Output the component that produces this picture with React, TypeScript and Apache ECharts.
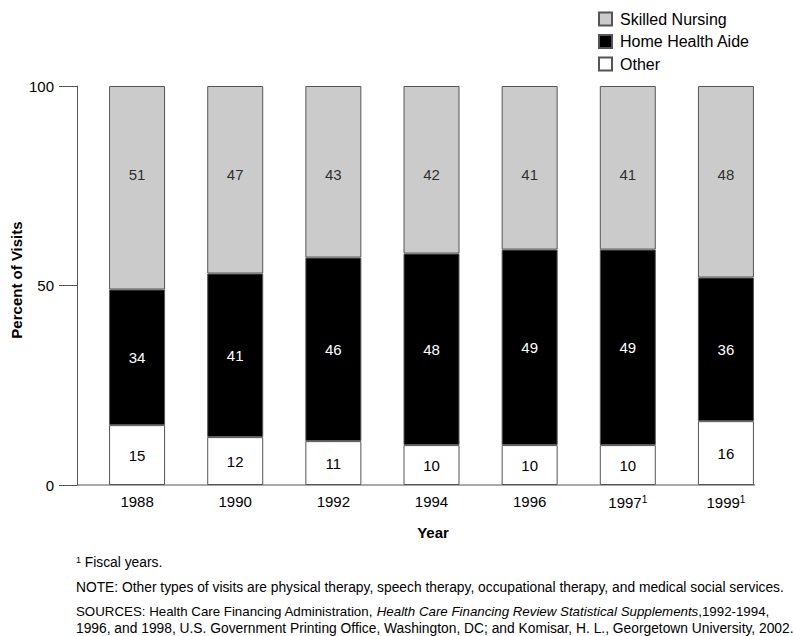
import React, { useEffect, useRef } from "react";
import * as echarts from "echarts";

const years = ["1988", "1990", "1992", "1994", "1996", "1997", "1999"];
const fiscalMark = [false, false, false, false, false, true, true];
const other = [15, 12, 11, 10, 10, 10, 16];
const homeHealthAide = [34, 41, 46, 48, 49, 49, 36];
const skilledNursing = [51, 47, 43, 42, 41, 41, 48];
const yTicks = [0, 50, 100];
const skilledLabelLevel = 77.7; // value level where the Skilled Nursing labels sit

const FONT = "'Liberation Sans', Arial, Helvetica, sans-serif";

export default function App() {
  const ref = useRef<HTMLDivElement>(null);
  useEffect(() => {
    if (!ref.current) return;
    const chart = echarts.init(ref.current, undefined, { renderer: "svg" });
    const labelBase = {
      show: true,
      position: "inside",
      fontSize: 15,
      fontFamily: FONT,
      formatter: "{c}",
    };
    const border = { borderColor: "#555", borderWidth: 1 };
    chart.setOption({
      animation: false,
      backgroundColor: "#fff",
      textStyle: { fontFamily: FONT },
      grid: { left: 88, right: 18, top: 86, bottom: 151, containLabel: false },
      legend: {
        orient: "vertical",
        left: 593,
        top: 6,
        itemWidth: 13,
        itemHeight: 13,
        itemGap: 6.5,
        icon: "rect",
        textStyle: { fontSize: 16, color: "#000", fontFamily: FONT, padding: [0, 0, 0, 3] },
        data: ["Skilled Nursing", "Home Health Aide", "Other"],
      },
      xAxis: {
        type: "category",
        data: years.map((y, i) => (fiscalMark[i] ? y + "{s|1}" : y)),
        axisLine: { show: false },
        axisTick: { show: false },
        axisLabel: {
          fontSize: 15,
          color: "#000",
          margin: 9,
          fontFamily: FONT,
          rich: { s: { fontSize: 10, verticalAlign: "top", color: "#000", padding: [0, 0, 6, 0] } },
        },
        name: "Year",
        nameLocation: "middle",
        nameGap: 40,
        nameTextStyle: { fontSize: 15, fontWeight: "bold", color: "#000", fontFamily: FONT, padding: [0, 0, 0, 3] },
      },
      yAxis: {
        type: "value",
        min: 0,
        max: 100,
        interval: 50,
        offset: 11,
        axisLine: { show: true, lineStyle: { color: "#555", width: 1 } },
        axisTick: { show: true, length: 18, lineStyle: { color: "#555" } },
        splitLine: { show: false },
        axisLabel: {
          fontSize: 15,
          color: "#000",
          margin: 23,
          fontFamily: FONT,
          formatter: (v: number) => (yTicks.includes(v) ? String(v) : ""),
        },
      },
      series: [
        {
          name: "Other",
          type: "bar",
          stack: "t",
          barWidth: 56,
          data: other,
          itemStyle: { color: "#fff", ...border },
          label: { ...labelBase, color: "#000" },
        },
        {
          name: "Home Health Aide",
          type: "bar",
          stack: "t",
          barWidth: 56,
          data: homeHealthAide,
          itemStyle: { color: "#000", ...border },
          label: { ...labelBase, color: "#fff" },
        },
        {
          name: "Skilled Nursing",
          type: "bar",
          stack: "t",
          barWidth: 56,
          data: skilledNursing,
          itemStyle: { color: "#cbcbcb", ...border },
          label: { show: false },
        },
        {
          name: "SN labels",
          type: "scatter",
          symbolSize: 0,
          silent: true,
          z: 5,
          data: skilledNursing.map((_, i) => [i, skilledLabelLevel]),
          label: {
            show: true,
            position: "inside",
            fontSize: 15,
            fontFamily: FONT,
            color: "#000",
            formatter: (p: any) => String(skilledNursing[p.dataIndex]),
          },
        },
      ],
      graphic: [
        {
          type: "line",
          shape: { x1: 77, y1: 485, x2: 755, y2: 485 },
          style: { stroke: "#555", lineWidth: 1 },
          z: 10,
        },
        {
          type: "text",
          x: 16,
          y: 280,
          rotation: Math.PI / 2,
          style: {
            text: "Percent of Visits",
            fontSize: 15,
            fontWeight: "bold",
            fontFamily: FONT,
            fill: "#000",
            align: "center",
            verticalAlign: "middle",
          },
        },
        {
          type: "text",
          x: 76,
          y: 562,
          style: {
            text: "{s|1} Fiscal years.",
            fontSize: 13.8,
            fontFamily: FONT,
            fill: "#000",
            verticalAlign: "middle",
            rich: { s: { fontSize: 9, verticalAlign: "top", padding: [0, 0, 4, 0] } },
          },
        },
        {
          type: "text",
          x: 76,
          y: 587,
          style: {
            text: "NOTE: Other types of visits are physical therapy, speech therapy, occupational therapy, and medical social services.",
            fontSize: 13.8,
            fontFamily: FONT,
            fill: "#000",
            verticalAlign: "middle",
          },
        },
        {
          type: "text",
          x: 76,
          y: 611,
          style: {
            text: "SOURCES: Health Care Financing Administration, {i|Health Care Financing Review Statistical Supplements},1992-1994,",
            fontSize: 13.3,
            fontFamily: FONT,
            fill: "#000",
            verticalAlign: "middle",
            rich: { i: { fontStyle: "italic", fontSize: 13.3, fontFamily: FONT } },
          },
        },
        {
          type: "text",
          x: 76,
          y: 628.5,
          style: {
            text: "1996, and 1998, U.S. Government Printing Office, Washington, DC; and Komisar, H. L., Georgetown University, 2002.",
            fontSize: 13.8,
            fontFamily: FONT,
            fill: "#000",
            verticalAlign: "middle",
          },
        },
      ],
    });
    return () => chart.dispose();
  }, []);
  return (
    <div
      ref={ref}
      style={{ position: "absolute", left: 0, top: 0, width: 793, height: 636 }}
    />
  );
}
